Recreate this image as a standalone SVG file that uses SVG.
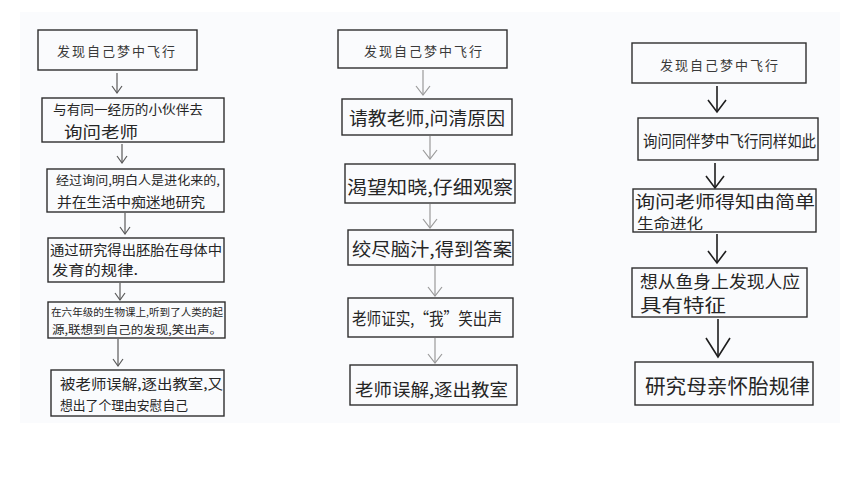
<svg xmlns="http://www.w3.org/2000/svg" width="860" height="484" viewBox="0 0 860 484">
<defs>
<style>
.box{fill:none;stroke:#2e2e2e;stroke-width:1.4}
.t{font-family:"Noto Sans CJK SC","Noto Sans",sans-serif;fill:#262626}
.title{font-size:13px;fill:#3a3a3a;letter-spacing:2px}
.c1{stroke:#5a5a5a;stroke-width:1.2;fill:none}
.c2{stroke:#9a9a9a;stroke-width:1.2;fill:none}
.c3{stroke:#1e1e1e;stroke-width:1.6;fill:none}
</style>
<marker id="m1" markerUnits="userSpaceOnUse" viewBox="-8 -8 16 16" markerWidth="16" markerHeight="16" refX="0" refY="0" orient="auto">
<path d="M-7,-5 L0,0 L-7,5" fill="none" stroke="#5a5a5a" stroke-width="1.2"/>
</marker>
<marker id="m2" markerUnits="userSpaceOnUse" viewBox="-10 -10 20 20" markerWidth="20" markerHeight="20" refX="0" refY="0" orient="auto">
<path d="M-9,-7 L0,0 L-9,7" fill="none" stroke="#9a9a9a" stroke-width="1.2"/>
</marker>
<marker id="m3" markerUnits="userSpaceOnUse" viewBox="-14 -14 28 28" markerWidth="28" markerHeight="28" refX="0" refY="0" orient="auto">
<path d="M-12,-9 L0,0 L-12,9" fill="none" stroke="#1e1e1e" stroke-width="1.6"/>
</marker>
<marker id="m3b" markerUnits="userSpaceOnUse" viewBox="-20 -20 40 40" markerWidth="40" markerHeight="40" refX="0" refY="0" orient="auto">
<path d="M-19,-12 L0,0 L-19,12" fill="none" stroke="#1e1e1e" stroke-width="1.6"/>
</marker>
</defs>
<rect x="0" y="0" width="860" height="484" fill="#ffffff"/>
<rect x="20" y="12" width="820" height="411" fill="#fafbfd"/>

<g id="connectors">
<line class="c1" x1="117" y1="73" x2="117" y2="93" marker-end="url(#m1)"/>
<line class="c1" x1="122" y1="144" x2="122" y2="163" marker-end="url(#m1)"/>
<line class="c1" x1="125" y1="213" x2="125" y2="234" marker-end="url(#m1)"/>
<line class="c1" x1="120" y1="283" x2="120" y2="300" marker-end="url(#m1)"/>
<line class="c1" x1="118" y1="339" x2="118" y2="366" marker-end="url(#m1)"/>
<line class="c2" x1="423" y1="70" x2="423" y2="95" marker-end="url(#m2)"/>
<line class="c2" x1="430" y1="136" x2="430" y2="159" marker-end="url(#m2)"/>
<line class="c2" x1="430" y1="204" x2="430" y2="228" marker-end="url(#m2)"/>
<line class="c2" x1="435" y1="266" x2="435" y2="296" marker-end="url(#m2)"/>
<line class="c2" x1="435" y1="338" x2="435" y2="363" marker-end="url(#m2)"/>
<line class="c3" x1="717" y1="86" x2="717" y2="112" marker-end="url(#m3)"/>
<line class="c3" x1="715" y1="163" x2="715" y2="188" marker-end="url(#m3)"/>
<line class="c3" x1="717" y1="234" x2="717" y2="263" marker-end="url(#m3)"/>
<line class="c3" x1="718" y1="319" x2="718" y2="357" marker-end="url(#m3b)"/>
</g>

<!-- Column 1 -->
<g id="n1-1">
<rect class="box" x="38" y="30" width="159" height="40"/>
<text class="t title" x="117" y="56" text-anchor="middle">发现自己梦中飞行</text>
</g>
<g id="n1-2">
<rect class="box" x="42" y="98" width="182" height="44"/>
<text class="t" x="53" y="114" font-size="13" textLength="150" lengthAdjust="spacingAndGlyphs">与有同一经历的小伙伴去</text>
<text class="t" x="64" y="138" font-size="16" textLength="74" lengthAdjust="spacingAndGlyphs">询问老师</text>
</g>
<g id="n1-3">
<rect class="box" x="47" y="169" width="177" height="43"/>
<text class="t" x="56" y="185" font-size="12" textLength="164" lengthAdjust="spacingAndGlyphs">经过询问,明白人是进化来的,</text>
<text class="t" x="57" y="207" font-size="14" textLength="148" lengthAdjust="spacingAndGlyphs">并在生活中痴迷地研究</text>
</g>
<g id="n1-4">
<rect class="box" x="48" y="238" width="176" height="44"/>
<text class="t" x="50" y="255" font-size="14" textLength="172" lengthAdjust="spacingAndGlyphs">通过研究得出胚胎在母体中</text>
<text class="t" x="52" y="275" font-size="14" textLength="86" lengthAdjust="spacingAndGlyphs">发育的规律.</text>
</g>
<g id="n1-5">
<rect class="box" x="48" y="302" width="177" height="36"/>
<text class="t" x="51" y="316" font-size="10.5" textLength="172" lengthAdjust="spacingAndGlyphs">在六年级的生物课上,听到了人类的起</text>
<text class="t" x="52" y="334" font-size="11.5" textLength="170" lengthAdjust="spacingAndGlyphs">源,联想到自己的发现,笑出声。</text>
</g>
<g id="n1-6">
<rect class="box" x="51" y="370" width="173" height="46"/>
<text class="t" x="60" y="389" font-size="13.5" textLength="163" lengthAdjust="spacingAndGlyphs">被老师误解,逐出教室,又</text>
<text class="t" x="60" y="410" font-size="13" textLength="128" lengthAdjust="spacingAndGlyphs">想出了个理由安慰自己</text>
</g>

<!-- Column 2 -->
<g id="n2-1">
<rect class="box" x="338" y="30" width="169" height="38"/>
<text class="t title" x="424" y="56" text-anchor="middle">发现自己梦中飞行</text>
</g>
<g id="n2-2">
<rect class="box" x="342" y="99" width="170" height="36"/>
<text class="t" x="349" y="125" font-size="18" textLength="156" lengthAdjust="spacingAndGlyphs">请教老师,问清原因</text>
</g>
<g id="n2-3">
<rect class="box" x="345" y="164" width="170" height="39"/>
<text class="t" x="347" y="194" font-size="18.5" textLength="166" lengthAdjust="spacingAndGlyphs">渴望知晓,仔细观察</text>
</g>
<g id="n2-4">
<rect class="box" x="348" y="230" width="165" height="35"/>
<text class="t" x="352" y="256" font-size="18" textLength="160" lengthAdjust="spacingAndGlyphs">绞尽脑汁,得到答案</text>
</g>
<g id="n2-5">
<rect class="box" x="348" y="298" width="165" height="39"/>
<text class="t" x="352" y="325" font-size="16.5" textLength="150" lengthAdjust="spacingAndGlyphs">老师证实,“我”笑出声</text>
</g>
<g id="n2-6">
<rect class="box" x="350" y="365" width="167" height="40"/>
<text class="t" x="355" y="396" font-size="17.5" textLength="153" lengthAdjust="spacingAndGlyphs">老师误解,逐出教室</text>
</g>

<!-- Column 3 -->
<g id="n3-1">
<rect class="box" x="632" y="43" width="174" height="40"/>
<text class="t title" x="720" y="70" text-anchor="middle">发现自己梦中飞行</text>
</g>
<g id="n3-2">
<rect class="box" x="638" y="118" width="180" height="42"/>
<text class="t" x="643" y="147" font-size="16" textLength="173" lengthAdjust="spacingAndGlyphs">询问同伴梦中飞行同样如此</text>
</g>
<g id="n3-3">
<rect class="box" x="633" y="189" width="183" height="43"/>
<text class="t" x="635" y="208" font-size="17" textLength="180" lengthAdjust="spacingAndGlyphs">询问老师得知由简单</text>
<text class="t" x="637" y="229" font-size="14.5" textLength="66" lengthAdjust="spacingAndGlyphs">生命进化</text>
</g>
<g id="n3-4">
<rect class="box" x="632" y="268" width="175" height="49"/>
<text class="t" x="640" y="288" font-size="17" textLength="160" lengthAdjust="spacingAndGlyphs">想从鱼身上发现人应</text>
<text class="t" x="640" y="312" font-size="18" textLength="86" lengthAdjust="spacingAndGlyphs">具有特征</text>
</g>
<g id="n3-5">
<rect class="box" x="635" y="362" width="178" height="43"/>
<text class="t" x="645" y="394" font-size="20" textLength="165" lengthAdjust="spacingAndGlyphs">研究母亲怀胎规律</text>
</g>
</svg>
